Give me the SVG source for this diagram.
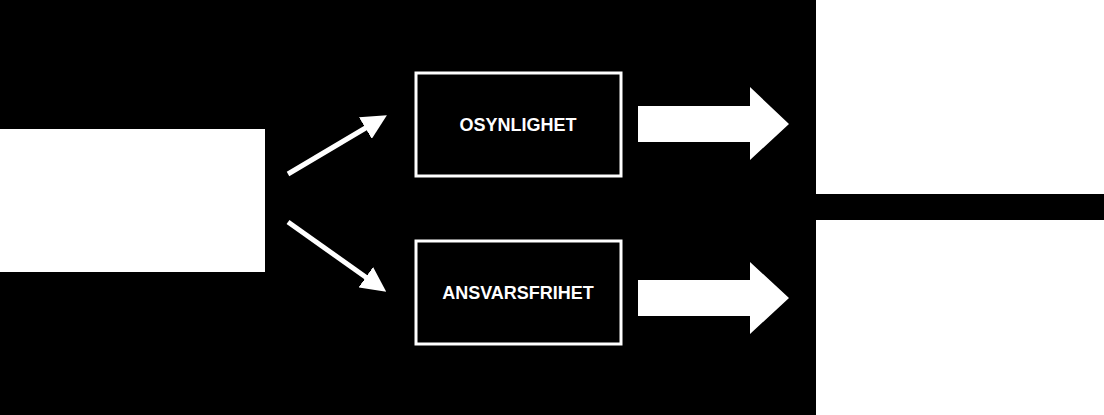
<svg xmlns="http://www.w3.org/2000/svg" width="1104" height="415" viewBox="0 0 1104 415">
<style>
.box{fill:none;stroke:#fff;stroke-width:3}
.lbl{font-family:"Liberation Sans",Arial,sans-serif;font-weight:bold;font-size:18px;fill:#fff;text-anchor:middle}
.ln{stroke:#fff;stroke-width:5;marker-end:url(#ah)}
</style>
<defs><marker id="ah" markerWidth="5" markerHeight="5" refX="2" refY="2.5" orient="auto" markerUnits="strokeWidth"><path d="M0,0 L5,2.5 L0,5 z" fill="#fff"/></marker></defs>
<rect x="0" y="0" width="1104" height="415" fill="#fff"/>
<rect x="0" y="0" width="816" height="415" fill="#000"/>
<rect x="816" y="194" width="288" height="26" fill="#000"/>
<g id="source"><rect x="0" y="129" width="265" height="143" fill="#fff"/></g>
<g id="osynlighet"><rect class="box" x="416" y="73" width="205" height="103"/><text class="lbl" x="518" y="131">OSYNLIGHET</text></g>
<g id="ansvarsfrihet"><rect class="box" x="416" y="241" width="205" height="103"/><text class="lbl" x="518" y="299">ANSVARSFRIHET</text></g>
<g id="connectors">
<line class="ln" x1="288" y1="174" x2="374" y2="123"/>
<line class="ln" x1="288" y1="222" x2="374" y2="283"/>
<path d="M638,106 H750 V87 L789,124 L750,160 V142 H638 Z" fill="#fff"/>
<path d="M638,280 H750 V262 L789,298 L750,334 V316 H638 Z" fill="#fff"/>
</g>
</svg>
